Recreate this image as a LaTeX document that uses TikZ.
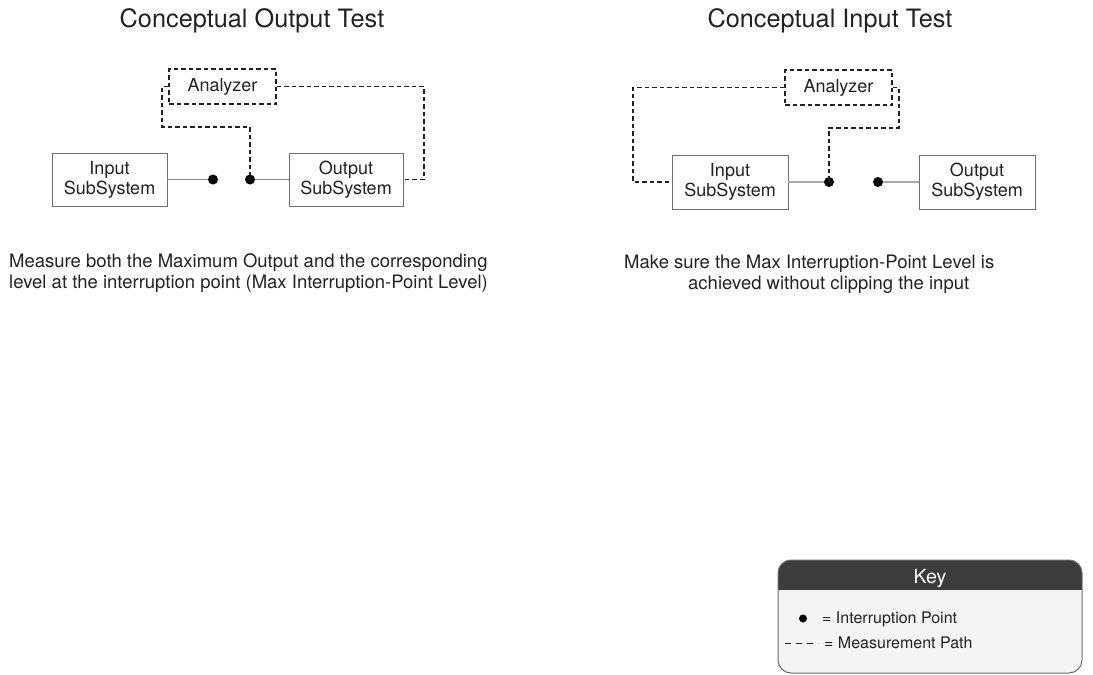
\documentclass[tikz,border=0pt]{standalone}
\usepackage{fontspec}
\setmainfont{TeX Gyre Heros}
\definecolor{txt}{HTML}{222222}
\definecolor{boxline}{HTML}{6E6E6E}
\definecolor{wire}{HTML}{8C8C8C}
\definecolor{wirelight}{HTML}{A8A8A8}
\definecolor{keyhead}{HTML}{3C3C3C}
\definecolor{keybg}{HTML}{F4F4F4}
\definecolor{keyline}{HTML}{6A6A6A}
\tikzset{
  sysbox/.style={draw=boxline, line width=0.9pt, fill=white, align=center, text=txt,
    font=\fontsize{18}{20}\selectfont, inner sep=0pt},
  anabox/.style={draw=txt, line width=1.2pt, dash pattern=on 4.5pt off 3pt, align=center,
    text=txt, font=\fontsize{18}{20}\selectfont, inner sep=0pt},
  ipoint/.style={circle, fill=black, draw=none, minimum size=10pt, inner sep=0pt},
  meas/.style={draw=txt, line width=1.2pt, dash pattern=on 4.5pt off 3pt},
  wireline/.style={draw=wire, line width=1pt},
  wirelightline/.style={draw=wirelight, line width=1.3pt},
  title/.style={text=txt, font=\fontsize{25.3}{30}\selectfont, anchor=base, inner sep=0pt},
  caption/.style={text=txt, font=\fontsize{18.5}{21}\selectfont, align=left, anchor=base west, inner sep=0pt},
  keytext/.style={text=txt, font=\fontsize{16}{18}\selectfont, anchor=base west, inner sep=0pt},
}
\begin{document}
\begin{tikzpicture}[x=1pt,y=-1pt]
\useasboundingbox (0,0) rectangle (1093,675);

% ---------- Left: Conceptual Output Test ----------
\node[title] (ltitle) at (252,27) {Conceptual Output Test};
\node[sysbox, minimum width=115pt, minimum height=53pt] (lin) at (109.5,179.5) {Input\\SubSystem};
\node[sysbox, minimum width=114pt, minimum height=53pt] (lout) at (346,179.5) {Output\\SubSystem};
\node[anabox, minimum width=107pt, minimum height=35pt] (lana) at (222.5,86.5) {Analyzer};
\node[ipoint] (ld1) at (213,179.5) {};
\node[ipoint] (ld2) at (250,179.5) {};
\coordinate (lc1) at (162,127);
\coordinate (lc2) at (424,179.5);
\draw[wireline] (lin.east) -- (ld1);
\draw[wireline] (ld2) -- (lout.west);
\draw[meas] (lana.west) -| (lc1) -| (ld2.center);
\draw[meas] (lana.east) -| (lc2) -- (lout.east);

\node[caption] (lcap1) at (9,267) {Measure both the Maximum Output and the corresponding};
\node[caption] (lcap2) at (9,288) {level at the interruption point (Max Interruption-Point Level)};

% ---------- Right: Conceptual Input Test ----------
\node[title] (rtitle) at (830,27) {Conceptual Input Test};
\node[sysbox, minimum width=116pt, minimum height=54pt] (rin) at (730,182) {Input\\SubSystem};
\node[sysbox, minimum width=116pt, minimum height=54pt] (rout) at (977,182) {Output\\SubSystem};
\node[anabox, minimum width=107pt, minimum height=35pt] (rana) at (838.5,87.5) {Analyzer};
\node[ipoint] (rd1) at (829,182) {};
\node[ipoint] (rd2) at (878,182) {};
\coordinate (rc1) at (633,182);
\coordinate (rc2) at (899,128);
\draw[wirelightline] (rin.east) -- (rd1);
\draw[wirelightline] (rd2) -- (rout.west);
\draw[meas] (rana.west) -| (rc1) -- (rin.west);
\draw[meas] (rana.east) -| (rc2) -| (rd1.center);

\node[caption] (rcap1) at (624,268) {Make sure the Max Interruption-Point Level is};
\node[caption] (rcap2) at (688,289) {achieved without clipping the input};

% ---------- Key ----------
\begin{scope}
  \clip[rounded corners=13pt] (778,560) rectangle (1082,673);
  \fill[keybg] (778,560) rectangle (1082,673);
  \fill[keyhead] (778,560) rectangle (1082,590);
\end{scope}
\draw[keyline, line width=1pt, rounded corners=13pt] (778,560) rectangle (1082,673);
\node[text=white, font=\fontsize{19.5}{22}\selectfont, anchor=base, inner sep=0pt] (keytitle) at (930,583) {Key};
\node[ipoint, minimum size=8pt] (keydot) at (803,618.5) {};
\node[keytext] (keyip) at (822,623) {= Interruption Point};
\coordinate (kd1) at (785,643.5);
\coordinate (kd2) at (818,643.5);
\draw[txt, line width=1.3pt, dash pattern=on 5.5pt off 5.5pt] (kd1) -- (kd2);
\node[keytext] (keymp) at (824,648) {= Measurement Path};
\end{tikzpicture}
\end{document}
